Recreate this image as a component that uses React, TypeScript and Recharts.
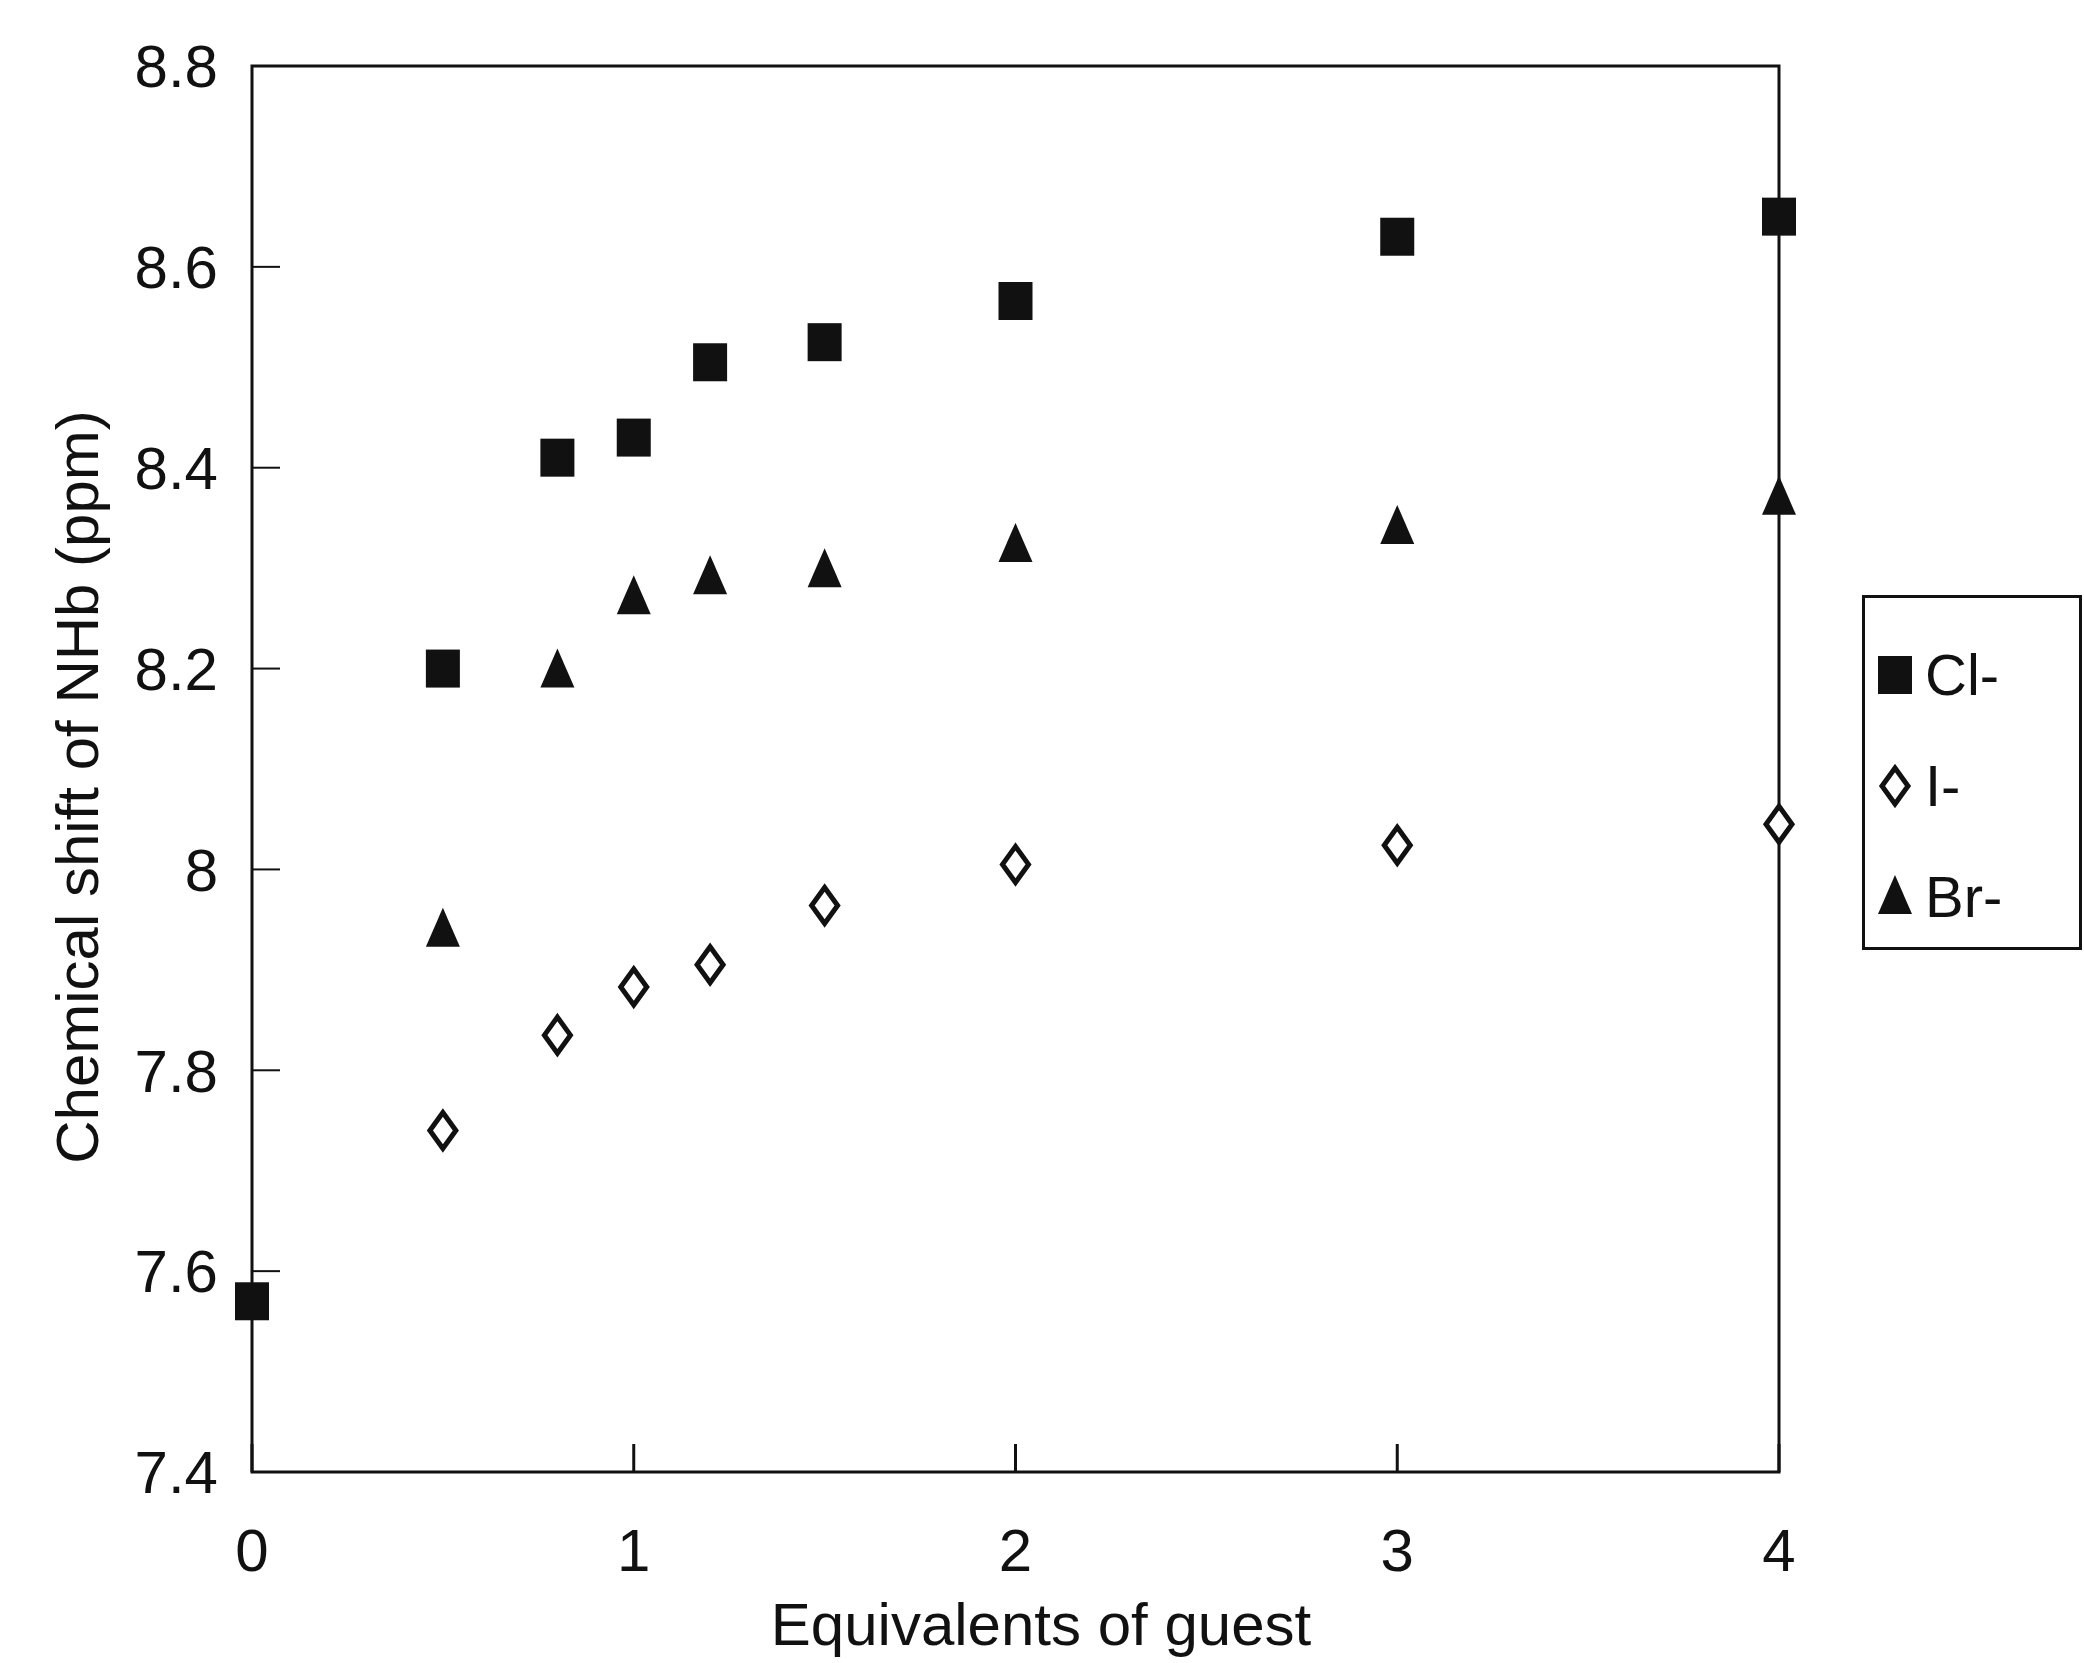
import React from 'react';
import { ScatterChart, Scatter, XAxis, YAxis, ReferenceArea, Label } from 'recharts';

// ---- data ----
const clEquiv = [0, 0.5, 0.8, 1.0, 1.2, 1.5, 2.0, 3.0, 4.0];
const clShift = [7.57, 8.2, 8.41, 8.43, 8.505, 8.525, 8.566, 8.63, 8.65];
const iEquiv = [0.5, 0.8, 1.0, 1.2, 1.5, 2.0, 3.0, 4.0];
const iShift = [7.74, 7.835, 7.883, 7.905, 7.964, 8.005, 8.024, 8.045];
const brEquiv = [0.5, 0.8, 1.0, 1.2, 1.5, 2.0, 3.0, 4.0];
const brShift = [7.94, 8.198, 8.271, 8.291, 8.298, 8.323, 8.341, 8.37];
const xTicks = [0, 1, 2, 3, 4];
const yTicks = [7.4, 7.6, 7.8, 8, 8.2, 8.4, 8.6, 8.8];
const seriesNames = ['Cl-', 'I-', 'Br-'];
const xTitle = 'Equivalents of guest';
const yTitle = 'Chemical shift of NHb (ppm)';

const toPoints = (xs: number[], ys: number[]) => xs.map((x, i) => ({ x, y: ys[i] }));
const clData = toPoints(clEquiv, clShift);
const iData = toPoints(iEquiv, iShift);
const brData = toPoints(brEquiv, brShift);

const FONT = '"Liberation Sans", Arial, Helvetica, sans-serif';
const INK = '#111';

const SquareShape = (p: any) => (
  <rect x={p.cx - 17} y={p.cy - 19} width={34} height={38} fill={INK} />
);
const TriangleShape = (p: any) => (
  <polygon
    points={`${p.cx},${p.cy - 22} ${p.cx + 17},${p.cy + 17} ${p.cx - 17},${p.cy + 17}`}
    fill={INK}
  />
);
const DiamondShape = (p: any) => (
  <polygon
    points={`${p.cx},${p.cy - 18} ${p.cx + 13},${p.cy} ${p.cx},${p.cy + 18} ${p.cx - 13},${p.cy}`}
    fill="#fff"
    stroke={INK}
    strokeWidth={5}
  />
);

const LegendIcon = ({ kind }: { kind: number }) => (
  <svg width={44} height={48} viewBox="-22 -24 44 48" style={{ display: 'block' }}>
    {kind === 0 && <SquareShape cx={0} cy={0} />}
    {kind === 1 && <DiamondShape cx={0} cy={0} />}
    {kind === 2 && <TriangleShape cx={0} cy={0} />}
  </svg>
);

export default function App() {
  return (
    <div style={{ position: 'absolute', left: 0, top: 0, width: 2084, height: 1663, background: '#fff' }}>
      <ScatterChart
        width={2084}
        height={1663}
        margin={{ top: 66, right: 305, bottom: 0, left: 0 }}
        style={{ fontFamily: FONT }}
      >
        <XAxis
          type="number"
          dataKey="x"
          domain={[0, 4]}
          ticks={xTicks}
          height={191}
          axisLine={false}
          tickSize={-28}
          tickMargin={84}
          tickLine={{ stroke: INK, strokeWidth: 3 }}
          tick={{ fill: INK, fontSize: 60, fontFamily: FONT }}
        >
          <Label
            content={() => (
              <text x={1041} y={1645} textAnchor="middle" fontSize={60} fontFamily={FONT} fill={INK}>
                {xTitle}
              </text>
            )}
          />
        </XAxis>
        <YAxis
          type="number"
          dataKey="y"
          domain={[7.4, 8.8]}
          ticks={yTicks}
          width={252}
          axisLine={false}
          tickSize={-28}
          tickMargin={62}
          tickLine={{ stroke: INK, strokeWidth: 2 }}
          tick={{ fill: INK, fontSize: 60, fontFamily: FONT }}
          tickFormatter={(v: number) => String(v)}
        >
          <Label
            content={() => (
              <text
                x={98}
                y={787}
                transform="rotate(-90 98 787)"
                textAnchor="middle"
                fontSize={60}
                fontFamily={FONT}
                fill={INK}
              >
                {yTitle}
              </text>
            )}
          />
        </YAxis>
        <ReferenceArea
          x1={0}
          x2={4}
          y1={7.4}
          y2={8.8}
          fill="none"
          fillOpacity={0}
          stroke={INK}
          strokeWidth={3}
          ifOverflow="visible"
        />
        <Scatter name={seriesNames[0]} data={clData} shape={SquareShape} isAnimationActive={false} />
        <Scatter name={seriesNames[1]} data={iData} shape={DiamondShape} isAnimationActive={false} />
        <Scatter name={seriesNames[2]} data={brData} shape={TriangleShape} isAnimationActive={false} />
      </ScatterChart>
      <div
        style={{
          position: 'absolute',
          left: 1862,
          top: 595,
          width: 220,
          height: 355,
          boxSizing: 'border-box',
          border: `3px solid ${INK}`,
          paddingTop: 21,
          fontFamily: FONT,
          color: INK,
        }}
      >
        {seriesNames.map((name, k) => (
          <div
            key={name}
            style={{ height: 111, display: 'flex', alignItems: 'center', paddingLeft: 8 }}
          >
            <LegendIcon kind={k} />
            <span style={{ fontSize: 58, marginLeft: 8, lineHeight: 1 }}>{name}</span>
          </div>
        ))}
      </div>
    </div>
  );
}
